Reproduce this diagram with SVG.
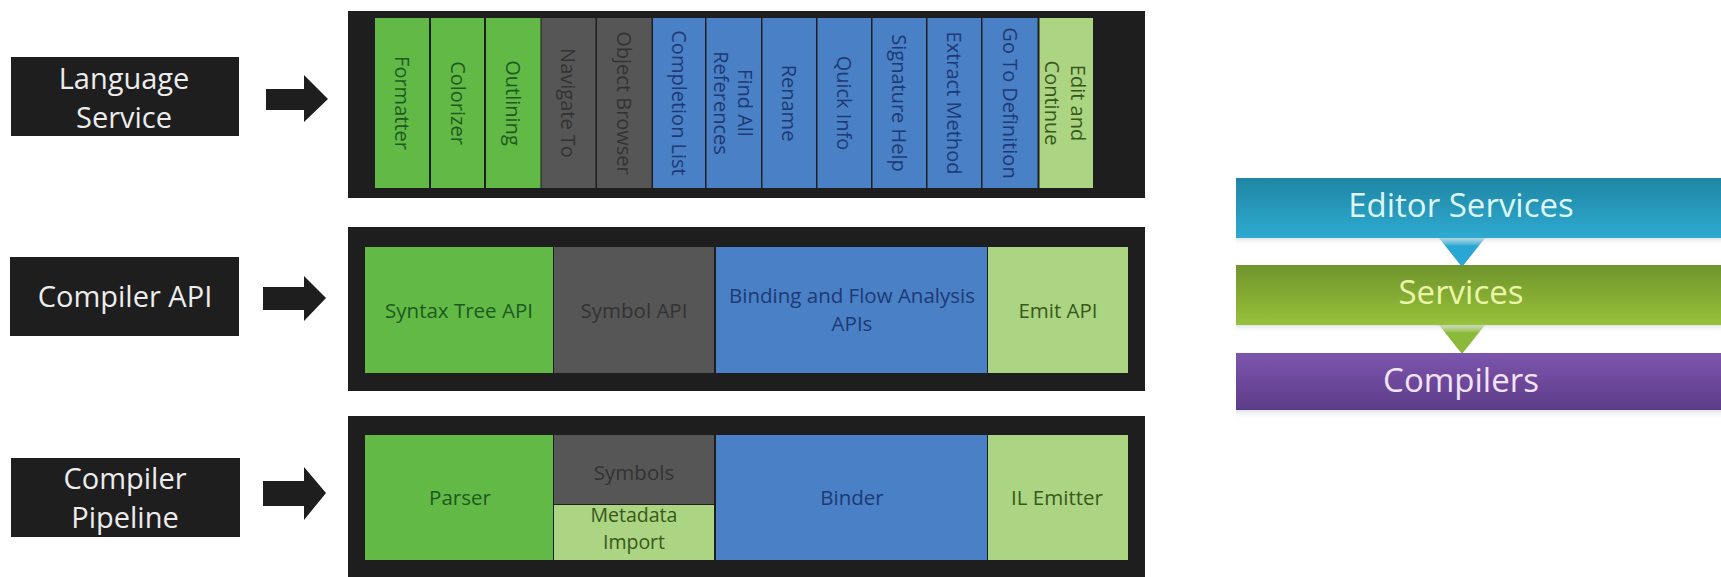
<svg xmlns="http://www.w3.org/2000/svg" width="1721" height="577" viewBox="0 0 1721 577">
<style>
.lbl{fill:#1e1e1e}
.lt{font-family:"Open Sans","Noto Sans",sans-serif;font-size:29px;fill:#ececec;text-anchor:middle}
.panel{fill:#1e1e1e}
.g{fill:#62b946}.gy{fill:#565656}.b{fill:#4a80c6}.lg{fill:#abd483}
.t{font-family:"Open Sans","Noto Sans",sans-serif;font-size:20.5px;text-anchor:middle}
.tv{font-size:20px;dominant-baseline:central}
.tg{fill:#1d5a1f}.tgy{fill:#333333}.tb{fill:#1d3a74}.tlg{fill:#38581a}
.rt{font-family:"Open Sans","Noto Sans",sans-serif;font-size:33px;text-anchor:middle}
.arr{fill:#1e1e1e}
</style>
<defs>
<linearGradient id="gEd" x1="0" y1="0" x2="0" y2="1"><stop offset="0" stop-color="#1f86a4"/><stop offset="1" stop-color="#2eaad0"/></linearGradient>
<linearGradient id="gSv" x1="0" y1="0" x2="0" y2="1"><stop offset="0" stop-color="#6f942c"/><stop offset="1" stop-color="#97c23a"/></linearGradient>
<linearGradient id="gCp" x1="0" y1="0" x2="0" y2="1"><stop offset="0" stop-color="#7d55ae"/><stop offset="1" stop-color="#5c3c88"/></linearGradient>
<linearGradient id="gRef" x1="0" y1="0" x2="0" y2="1"><stop offset="0" stop-color="#d8dde0" stop-opacity="0.8"/><stop offset="1" stop-color="#ffffff" stop-opacity="0"/></linearGradient>
</defs>
<rect width="1721" height="577" fill="#ffffff"/>

<g id="language-service">
<rect class="lbl" x="11" y="57" width="228" height="79"/>
<text class="lt" x="124" y="89">Language</text>
<text class="lt" x="124" y="128">Service</text>
</g>
<g id="compiler-api">
<rect class="lbl" x="10" y="257" width="229" height="79"/>
<text class="lt" x="125" y="307">Compiler API</text>
</g>
<g id="compiler-pipeline">
<rect class="lbl" x="11" y="458" width="229" height="79"/>
<text class="lt" x="125" y="489">Compiler</text>
<text class="lt" x="125" y="528">Pipeline</text>
</g>

<g id="connectors">
<polygon class="arr" points="266,89 304,89 304,75 328,99 304,122 304,110 266,110"/>
<polygon class="arr" points="263,287 304,287 304,276 326,298 304,321 304,310 263,310"/>
<polygon class="arr" points="263,481 304,481 304,467 326,493 304,520 304,506 263,506"/>
<polygon points="1439,238 1485,238 1462,267" fill="#2aa6d2"/>
<polygon points="1439,325 1485,325 1462,354" fill="#8bb93a"/>
</g>

<g id="language-service-panel">
<rect class="panel" x="348" y="11" width="797" height="187"/>
<rect class="g" x="375" y="18" width="54" height="170"/>
<rect class="g" x="431" y="18" width="53" height="170"/>
<rect class="g" x="486" y="18" width="54.5" height="170"/>
<rect class="gy" x="541.5" y="18" width="54" height="170"/>
<rect class="gy" x="597" y="18" width="54.5" height="170"/>
<rect class="b" x="653" y="18" width="52" height="170"/>
<rect class="b" x="706.5" y="18" width="54.5" height="170"/>
<rect class="b" x="762.5" y="18" width="53.5" height="170"/>
<rect class="b" x="817.5" y="18" width="53.5" height="170"/>
<rect class="b" x="872.5" y="18" width="53.5" height="170"/>
<rect class="b" x="927.5" y="18" width="53.5" height="170"/>
<rect class="b" x="982.5" y="18" width="55" height="170"/>
<rect class="lg" x="1039.5" y="18" width="53.5" height="170"/>
<text class="t tv tg" transform="translate(402,103) rotate(90)">Formatter</text>
<text class="t tv tg" transform="translate(458,103) rotate(90)">Colorizer</text>
<text class="t tv tg" transform="translate(513,103) rotate(90)">Outlining</text>
<text class="t tv tgy" transform="translate(568,103) rotate(90)">Navigate To</text>
<text class="t tv tgy" transform="translate(624,103) rotate(90)">Object Browser</text>
<text class="t tv tb" transform="translate(679,103) rotate(90)">Completion List</text>
<text class="t tv tb" transform="translate(745,103) rotate(90)">Find All</text>
<text class="t tv tb" transform="translate(721,103) rotate(90)">References</text>
<text class="t tv tb" transform="translate(789,103) rotate(90)">Rename</text>
<text class="t tv tb" transform="translate(844,103) rotate(90)">Quick Info</text>
<text class="t tv tb" transform="translate(899,103) rotate(90)">Signature Help</text>
<text class="t tv tb" transform="translate(954,103) rotate(90)">Extract Method</text>
<text class="t tv tb" transform="translate(1010,103) rotate(90)">Go To Definition</text>
<text class="t tv tlg" transform="translate(1078,103) rotate(90)">Edit and</text>
<text class="t tv tlg" transform="translate(1052,103) rotate(90)">Continue</text>
</g>

<g id="compiler-api-panel">
<rect class="panel" x="348" y="227" width="797" height="164"/>
<rect class="g" x="365" y="247" width="188" height="126"/>
<rect class="gy" x="554" y="247" width="160" height="126"/>
<rect class="b" x="716" y="247" width="271" height="126"/>
<rect class="lg" x="988" y="247" width="140" height="126"/>
<text class="t tg" x="459" y="318">Syntax Tree API</text>
<text class="t tgy" x="634" y="318">Symbol API</text>
<text class="t tb" x="852" y="303">Binding and Flow Analysis</text>
<text class="t tb" x="852" y="331">APIs</text>
<text class="t tlg" x="1058" y="318">Emit API</text>
</g>

<g id="compiler-pipeline-panel">
<rect class="panel" x="348" y="416" width="797" height="161"/>
<rect class="g" x="365" y="435" width="188" height="125"/>
<rect class="gy" x="554" y="435" width="160" height="69"/>
<rect class="lg" x="554" y="505" width="160" height="55"/>
<rect class="b" x="716" y="435" width="271" height="125"/>
<rect class="lg" x="988" y="435" width="140" height="125"/>
<text class="t tg" x="460" y="505">Parser</text>
<text class="t tgy" x="634" y="480">Symbols</text>
<text class="t tlg" x="634" y="522" style="font-size:19.5px">Metadata</text>
<text class="t tlg" x="634" y="549" style="font-size:19.5px">Import</text>
<text class="t tb" x="852" y="505">Binder</text>
<text class="t tlg" x="1057" y="505">IL Emitter</text>
</g>

<g id="editor-services">
<rect x="1236" y="178" width="485" height="60" fill="url(#gEd)"/>
<text class="rt" x="1461" y="217" fill="#dcf6f6">Editor Services</text>
</g>
<g id="services">
<rect x="1236" y="238" width="485" height="8" fill="url(#gRef)"/>
<rect x="1236" y="265" width="485" height="60" fill="url(#gSv)"/>
<text class="rt" x="1461" y="304" fill="#eaf5a8">Services</text>
</g>
<g id="compilers">
<rect x="1236" y="325" width="485" height="8" fill="url(#gRef)"/>
<rect x="1236" y="353" width="485" height="57" fill="url(#gCp)"/>
<rect x="1236" y="410" width="485" height="10" fill="url(#gRef)"/>
<text class="rt" x="1461" y="392" fill="#f2e4f6">Compilers</text>
</g>
</svg>
